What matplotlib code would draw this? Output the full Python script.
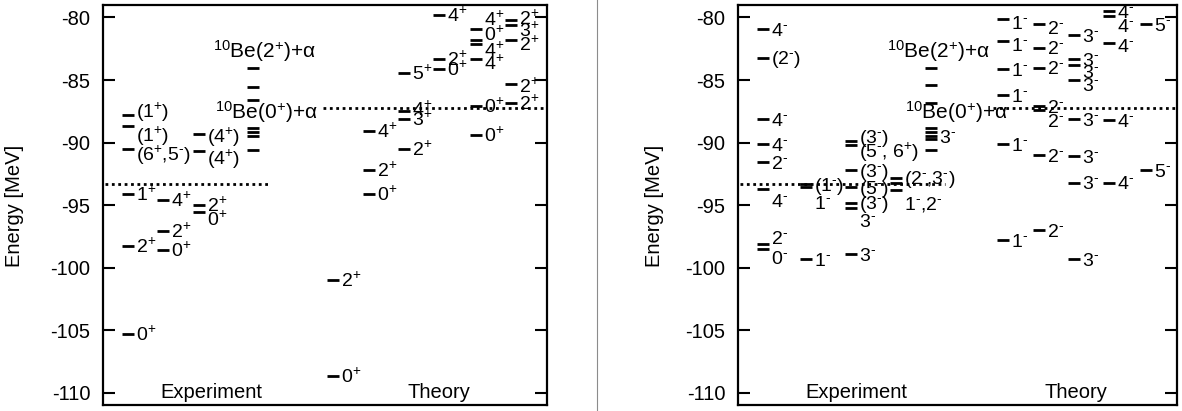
import matplotlib
matplotlib.use("Agg")
import matplotlib.pyplot as plt
import matplotlib.transforms as mtransforms
from matplotlib.lines import Line2D

plt.rcParams["font.family"] = ["Liberation Sans", "DejaVu Sans"]
plt.rcParams["mathtext.fontset"] = "custom"
plt.rcParams["mathtext.rm"] = "Liberation Sans"
plt.rcParams["mathtext.it"] = "Liberation Sans"
plt.rcParams["mathtext.bf"] = "Liberation Sans:bold"
plt.rcParams["axes.unicode_minus"] = False

# ---- level energies [MeV] and spin-parity labels, one sub-list per column ----
# positive parity
pos_exp_energy = [
    [-87.8, -88.7, -90.5, -94.1, -98.3, -105.3],
    [-94.6, -97.1, -98.6],
    [-89.3, -90.7, -95.0, -95.6],
    [-84.0, -85.6, -86.6, -88.8, -89.15, -89.5, -90.6],
]
pos_exp_spin = [
    ["(1+)", "(1+)", "(6+,5-)", "1+", "2+", "0+"],
    ["4+", "2+", "0+"],
    ["(4+)", "(4+)", "2+", "0+"],
    ["", "", "", "", "", "", ""],
]
pos_th_energy = [
    [-101.0, -108.7],
    [-89.1, -92.2, -94.1],
    [-84.4, -87.5, -88.1, -90.5],
    [-79.8, -83.3, -84.1],
    [-80.9, -81.8, -82.1, -83.3, -87.1, -89.4],
    [-80.2, -80.6, -81.8, -85.3, -86.8],
]
pos_th_spin = [
    ["2+", "0+"],
    ["4+", "2+", "0+"],
    ["5+", "4+", "3+", "2+"],
    ["4+", "2+", "0+"],
    ["4+", "0+", "4+", "4+", "0+", "0+"],
    ["2+", "3+", "2+", "2+", "2+"],
]

# negative parity
neg_exp_energy = [
    [-80.9, -83.2, -88.1, -90.1, -91.6, -93.7, -98.1, -98.5],
    [-93.3, -93.6, -99.3],
    [-89.9, -90.2, -92.2, -93.6, -94.8, -95.2, -98.9],
    [-92.8, -93.2, -93.8],
    [-84.0, -85.4, -86.8, -88.85, -89.15, -89.45, -89.75, -90.6],
]
neg_exp_spin = [
    ["4-", "(2-)", "4-", "4-", "2-", "4-", "2-", "0-"],
    ["(1-)", "1-", "1-"],
    ["(3-)", "(5-, 6+)", "(3-)", "(5-)", "(3-)", "3-", "3-"],
    ["(2-,3-)", "", "1-,2-"],
    ["", "", "", "", "", "3-", "", ""],
]
neg_th_energy = [
    [-80.1, -81.9, -84.1, -86.2, -90.1, -97.8],
    [-80.5, -82.4, -84.0, -87.1, -87.4, -91.0, -97.0],
    [-81.4, -83.3, -83.8, -85.0, -88.1, -91.1, -93.2, -99.3],
    [-79.5, -79.9, -82.0, -88.2, -93.2],
    [-80.5, -92.2],
]
neg_th_spin = [
    ["1-"] * 6,
    ["2-"] * 7,
    ["3-"] * 8,
    ["4-"] * 5,
    ["5-"] * 2,
]

# 10Be + alpha thresholds
threshold_exp = -93.3
threshold_th = -87.2

# ---- layout (pixel units along x) ----
W, H = 1182, 411
BAR = 12
pos_exp_x = [19, 54, 90, 144]
pos_th_x = [224, 260, 295, 330, 367, 402]
neg_exp_x = [19, 62, 107, 152, 187]
neg_th_x = [259, 295, 330, 365, 402]

# vertical label nudges [MeV] where labels crowd together
shift = {
    ("pe", 0, 0): 0.3, ("pe", 0, 1): -0.7, ("pe", 0, 2): -0.4,
    ("pe", 2, 0): -0.2, ("pe", 2, 1): -0.5, ("pe", 2, 3): -0.5,
    ("pt", 2, 1): 0.2,
    ("pt", 4, 0): 0.8, ("pt", 4, 1): 0.5, ("pt", 4, 2): -0.5, ("pt", 4, 3): -0.3,
    ("pt", 5, 0): 0.2, ("pt", 5, 1): -0.4, ("pt", 5, 2): -0.3, ("pt", 5, 3): -0.2,
    ("ne", 0, 5): -0.9, ("ne", 0, 6): 0.5, ("ne", 0, 7): -0.7,
    ("ne", 1, 1): -1.2,
    ("ne", 2, 0): 0.4, ("ne", 2, 1): -0.5, ("ne", 2, 5): -1.0,
    ("ne", 3, 2): -1.0,
    ("nt", 0, 0): -0.3, ("nt", 0, 1): -0.2,
    ("nt", 1, 0): -0.3, ("nt", 1, 4): -0.8,
    ("nt", 2, 2): -0.5, ("nt", 2, 3): -0.3,
    ("nt", 3, 1): -0.7, ("nt", 3, 2): -0.2,
}


def sup(j):
    return j.replace("+", r"$^{+}$").replace("-", r"$^{\text{-}}$")


def draw_levels(ax, key, xs, energies, spins):
    lab_tr = mtransforms.offset_copy(ax.transData, fig=ax.figure, y=-5, units="points")
    for c, (x, es, js) in enumerate(zip(xs, energies, spins)):
        for i, (e, j) in enumerate(zip(es, js)):
            ax.plot([x, x + BAR], [e, e], color="black", lw=2.0, solid_capstyle="butt")
            if j:
                ax.text(x + BAR + 2, e + shift.get((key, c, i), 0.0), sup(j),
                        transform=lab_tr, fontsize=14, va="baseline", ha="left")


def setup(ax, width):
    ax.set_xlim(0, width)
    ax.set_ylim(-111, -79)
    ax.set_yticks(range(-110, -79, 5))
    ax.set_xticks([])
    ax.tick_params(axis="y", direction="in", length=8.5, width=1.5, right=True,
                   labelsize=14.5, pad=9)
    for s in ax.spines.values():
        s.set_linewidth(1.6)


def dotted(ax, x0, x1, e):
    ax.plot([x0, x1], [e, e], color="black", lw=2.0, linestyle=(0, (1, 1.3)),
            dash_capstyle="butt")


fig = plt.figure(figsize=(W / 100, H / 100), dpi=100)

# left: positive parity
axL = fig.add_axes([103 / W, (H - 405) / H, 444 / W, 400 / H])
setup(axL, 444)
dotted(axL, 2, 167, threshold_exp)
dotted(axL, 220, 444, threshold_th)
draw_levels(axL, "pe", pos_exp_x, pos_exp_energy, pos_exp_spin)
draw_levels(axL, "pt", pos_th_x, pos_th_energy, pos_th_spin)
axL.text(110, -82.7, r"$^{10}$Be(2$^{+}$)+$\alpha$", fontsize=15, va="center")
axL.text(112, -87.6, r"$^{10}$Be(0$^{+}$)+$\alpha$", fontsize=15, va="center")
axL.text(108, -110.0, "Experiment", fontsize=14.5, ha="center", va="center")
axL.text(336, -110.0, "Theory", fontsize=14.5, ha="center", va="center")

# right: negative parity
axR = fig.add_axes([738 / W, (H - 405) / H, 439 / W, 400 / H])
setup(axR, 439)
dotted(axR, 2, 207, threshold_exp)
dotted(axR, 255, 439, threshold_th)
draw_levels(axR, "ne", neg_exp_x, neg_exp_energy, neg_exp_spin)
draw_levels(axR, "nt", neg_th_x, neg_th_energy, neg_th_spin)
axR.text(149, -82.7, r"$^{10}$Be(2$^{+}$)+$\alpha$", fontsize=15, va="center")
axR.text(167, -87.6, r"$^{10}$Be(0$^{+}$)+$\alpha$", fontsize=15, va="center")
axR.text(118, -110.0, "Experiment", fontsize=14.5, ha="center", va="center")
axR.text(338, -110.0, "Theory", fontsize=14.5, ha="center", va="center")

fig.text(15 / W, 0.5, "Energy [MeV]", rotation=90, fontsize=14.5, ha="center", va="center")
fig.text(654 / W, 0.5, "Energy [MeV]", rotation=90, fontsize=14.5, ha="center", va="center")
fig.add_artist(Line2D([597 / W, 597 / W], [0, 1], color="0.55", lw=0.8))

fig.savefig("out.png", dpi=100)
